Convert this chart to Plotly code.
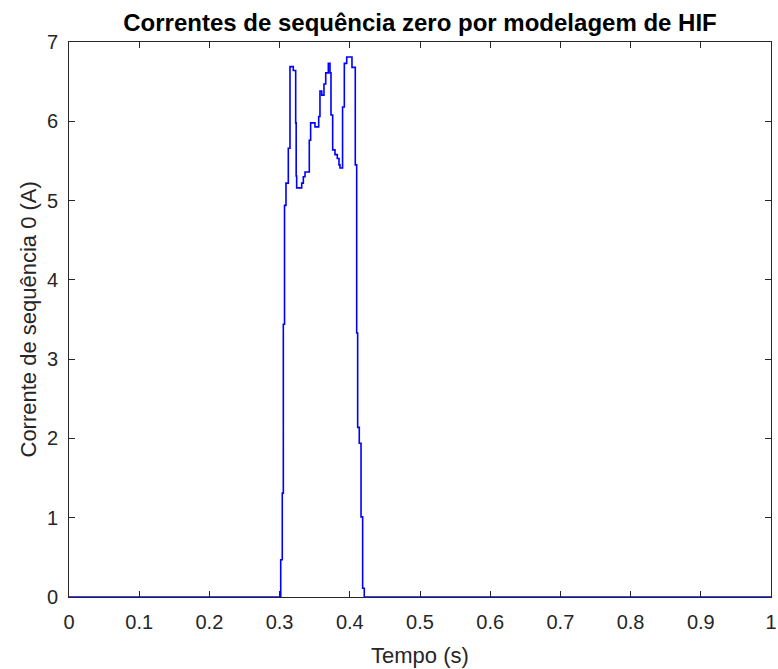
import plotly.graph_objects as go

# Step points (time in s, zero-sequence current in A)
tempo = [0.0, 0.3016, 0.3038, 0.3053, 0.3070, 0.3091, 0.3124, 0.3148, 0.3195,
         0.3229, 0.3236, 0.3243, 0.3315, 0.3338, 0.3362, 0.3423, 0.3442, 0.3504,
         0.3557, 0.3575, 0.3600, 0.3632, 0.3657, 0.3694, 0.3718, 0.3732, 0.3756,
         0.3789, 0.3822, 0.3846, 0.3860, 0.3897, 0.3922, 0.3956, 0.4031, 0.4078,
         0.4098, 0.4112, 0.4135, 0.4160, 0.4183, 0.4206, 1.0]
corrente = [0.0, 0.47, 1.31, 3.44, 4.94, 5.22, 5.66, 6.69, 6.64,
            5.98, 5.31, 5.16, 5.22, 5.30, 5.36, 5.76, 5.98, 5.93,
            6.06, 6.38, 6.33, 6.47, 6.61, 6.73, 6.61, 6.08, 5.64,
            5.58, 5.53, 5.45, 5.41, 6.18, 6.73, 6.81, 6.68, 5.45,
            3.33, 2.14, 1.94, 1.01, 0.11, 0.0, 0.0]

x_ticks = [0, 0.1, 0.2, 0.3, 0.4, 0.5, 0.6, 0.7, 0.8, 0.9, 1]
x_labels = ["0", "0.1", "0.2", "0.3", "0.4", "0.5", "0.6", "0.7", "0.8", "0.9", "1"]
y_ticks = [0, 1, 2, 3, 4, 5, 6, 7]

axis_color = "#262626"
font_family = "Liberation Sans, Arial, Helvetica, sans-serif"

W, H = 778, 669
L, R, T, B = 69, 7, 42, 72
PW, PH = W - L - R, H - T - B

fig = go.Figure()
fig.add_trace(go.Scatter(
    x=tempo, y=corrente, mode="lines",
    line=dict(color="#0000FF", width=1.6, shape="hv"),
    showlegend=False,
))

fig.update_layout(
    width=W, height=H,
    margin=dict(l=L, r=R, t=T, b=B, autoexpand=False),
    paper_bgcolor="white", plot_bgcolor="white",
    font=dict(family=font_family, color=axis_color, size=20),
    title=dict(
        text="<b>Correntes de sequência zero por modelagem de HIF</b>",
        x=(L + PW / 2) / W, xanchor="center",
        y=1 - 23 / H, yanchor="middle",
        font=dict(size=24, color="#000000", family=font_family),
    ),
    annotations=[
        dict(text="Tempo (s)", xref="paper", yref="paper", x=0.5, y=-(655 - 597) / PH,
             xanchor="center", yanchor="middle", showarrow=False,
             font=dict(size=22, color=axis_color)),
        dict(text="Corrente de sequência 0 (A)", xref="paper", yref="paper",
             x=-(69 - 28) / PW, y=0.5, textangle=-90,
             xanchor="center", yanchor="middle", showarrow=False,
             font=dict(size=22, color=axis_color)),
    ],
)

fig.update_xaxes(
    range=[0, 1], tickvals=x_ticks, ticktext=x_labels,
    showgrid=False, zeroline=False, automargin=False,
    showline=True, linecolor=axis_color, linewidth=1, mirror="ticks",
    ticks="inside", ticklen=6, tickcolor=axis_color, tickwidth=1,
    layer="below traces", ticklabeloverflow="allow", ticklabelstandoff=7,
    tickfont=dict(size=20, color=axis_color),
)
fig.update_yaxes(
    range=[0, 7], tickvals=y_ticks,
    showgrid=False, zeroline=False, automargin=False,
    showline=True, linecolor=axis_color, linewidth=1, mirror="ticks",
    ticks="inside", ticklen=6, tickcolor=axis_color, tickwidth=1,
    layer="below traces", ticklabeloverflow="allow", ticklabelstandoff=6,
    tickfont=dict(size=20, color=axis_color),
)

fig.write_html(
    "out.html",
    config={"displayModeBar": False},
    post_script="document.body.style.margin='0';document.body.style.overflow='hidden';",
)
